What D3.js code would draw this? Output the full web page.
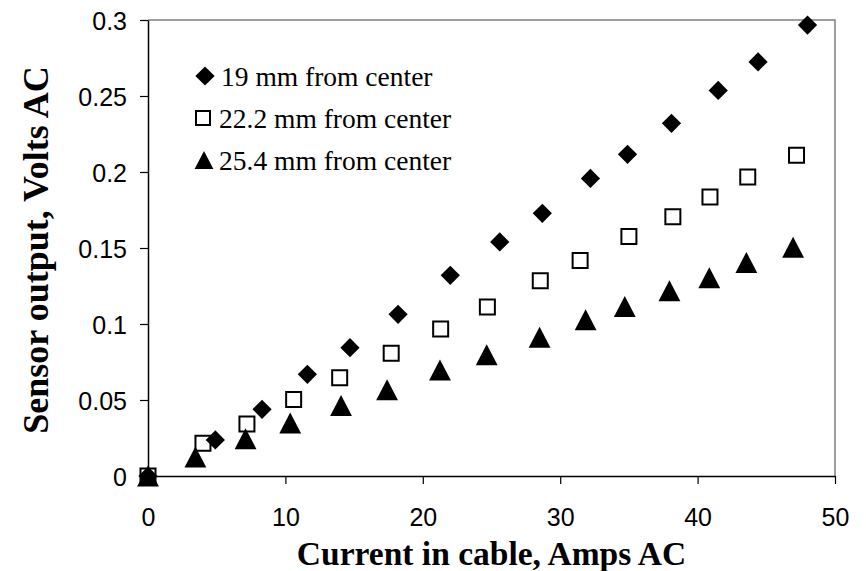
<!DOCTYPE html>
<html>
<head>
<meta charset="utf-8">
<script src="https://cdn.jsdelivr.net/npm/d3@7"></script>
<style>
  body { margin: 0; background: #fff; }
  svg { display: block; }
</style>
</head>
<body>
<script>
// data
const seriesNames = ["19 mm from center", "22.2 mm from center", "25.4 mm from center"];

const amps19 = [0, 4.9, 8.3, 11.6, 14.7, 18.2, 22.0, 25.6, 28.7, 32.2, 34.9, 38.1, 41.5, 44.4, 48.0];
const volts19 = [0, 0.0237, 0.0439, 0.0669, 0.0844, 0.1064, 0.132, 0.154, 0.1728, 0.1958, 0.2116, 0.232, 0.2537, 0.2724, 0.2967];

const amps22 = [0, 4.0, 7.2, 10.6, 13.95, 17.7, 21.3, 24.7, 28.55, 31.45, 35.0, 38.2, 40.9, 43.65, 47.2];
const volts22 = [0, 0.0215, 0.0342, 0.0504, 0.0647, 0.0807, 0.0967, 0.1112, 0.1285, 0.1417, 0.1575, 0.1706, 0.1836, 0.1967, 0.211];

const amps25 = [0, 3.45, 7.1, 10.35, 14.05, 17.4, 21.25, 24.65, 28.5, 31.85, 34.7, 37.95, 40.85, 43.55, 46.95];
const volts25 = [0, 0.0125, 0.0245, 0.0349, 0.0464, 0.0567, 0.0697, 0.0797, 0.0913, 0.1028, 0.1115, 0.1218, 0.1304, 0.1405, 0.1505];

const xTicks = [0, 10, 20, 30, 40, 50];
const yTicks = [0, 0.05, 0.1, 0.15, 0.2, 0.25, 0.3];
const yTickLabels = ["0", "0.05", "0.1", "0.15", "0.2", "0.25", "0.3"];

const width = 866, height = 571;
const margin = {top: 20, right: 31, bottom: 95, left: 148};

const svg = d3.select("body").append("svg")
    .attr("width", width)
    .attr("height", height);

const x = d3.scaleLinear().domain([0, 50]).range([margin.left, width - margin.right]);
const y = d3.scaleLinear().domain([0, 0.3]).range([height - margin.bottom, margin.top]);

// triangle with its box centred on the point
const tri = {
  draw(ctx, size) {
    let w = Math.sqrt(size);
    ctx.moveTo(0, -w / 2);
    ctx.lineTo(w * 0.52, w / 2);
    ctx.lineTo(-w * 0.52, w / 2);
    ctx.closePath();
  }
};

// plot frame: grey top and right
svg.append("path")
    .attr("d", `M${x(0)},${y(0.3)}H${x(50)}V${y(0)}`)
    .attr("fill", "none")
    .attr("stroke", "#808080")
    .attr("stroke-width", 1.5);

// axes
let xAxis = svg.append("g")
    .attr("transform", `translate(0,${y(0)})`)
    .call(d3.axisBottom(x).tickValues(xTicks).tickSize(8).tickPadding(24).tickSizeOuter(0));

let yAxis = svg.append("g")
    .attr("transform", `translate(${x(0)},0)`)
    .call(d3.axisLeft(y).tickValues(yTicks).tickSize(8).tickPadding(13).tickSizeOuter(0)
      .tickFormat((d, i) => yTickLabels[i]));

[xAxis, yAxis].forEach(g => {
  g.select(".domain").attr("stroke", "#000").attr("stroke-width", 1.5);
  g.selectAll(".tick line").attr("stroke", "#000").attr("stroke-width", 1.2);
  g.selectAll(".tick text")
      .attr("fill", "#000")
      .attr("font-family", "Liberation Sans, Arial, sans-serif")
      .attr("font-size", 25);
});
yAxis.selectAll(".tick text").attr("dy", "0.36em");

// points: squares first, then triangles, then diamonds
function toPoints(xs, ys) {
  return xs.map((d, i) => ({a: d, v: ys[i]}));
}

svg.append("g").selectAll("path")
  .data(toPoints(amps22, volts22))
  .enter().append("path")
    .attr("d", d3.symbol().type(d3.symbolSquare).size(225))
    .attr("transform", d => `translate(${x(d.a)},${y(d.v)})`)
    .attr("fill", "#fff")
    .attr("stroke", "#000")
    .attr("stroke-width", 2);

svg.append("g").selectAll("path")
  .data(toPoints(amps25, volts25))
  .enter().append("path")
    .attr("d", d3.symbol().type(tri).size(441))
    .attr("transform", d => `translate(${x(d.a)},${y(d.v)})`)
    .attr("fill", "#000");

svg.append("g").selectAll("path")
  .data(toPoints(amps19, volts19))
  .enter().append("path")
    .attr("d", d3.symbol().type(d3.symbolSquare).size(185))
    .attr("transform", d => `translate(${x(d.a)},${y(d.v)}) rotate(45)`)
    .attr("fill", "#000");

// legend
const legendY = [76, 118, 160];
let legend = svg.append("g");
legend.append("path")
    .attr("d", d3.symbol().type(d3.symbolSquare).size(185))
    .attr("transform", `translate(205,${legendY[0]}) rotate(45)`)
    .attr("fill", "#000");
legend.append("path")
    .attr("d", d3.symbol().type(d3.symbolSquare).size(196))
    .attr("transform", `translate(203,${legendY[1]})`)
    .attr("fill", "#fff")
    .attr("stroke", "#000")
    .attr("stroke-width", 2);
legend.append("path")
    .attr("d", d3.symbol().type(tri).size(324))
    .attr("transform", `translate(204,${legendY[2]})`)
    .attr("fill", "#000");
legend.selectAll("text")
  .data(seriesNames)
  .enter().append("text")
    .attr("x", (d, i) => i == 0 ? 221 : 219)
    .attr("y", (d, i) => legendY[i])
    .attr("dy", "0.35em")
    .attr("font-family", "Liberation Serif, Times New Roman, serif")
    .attr("font-size", 27.5)
    .attr("fill", "#000")
    .text(d => d);

// axis titles
svg.append("text")
    .attr("x", (x(0) + x(50)) / 2)
    .attr("y", 565)
    .attr("text-anchor", "middle")
    .attr("font-family", "Liberation Serif, Times New Roman, serif")
    .attr("font-weight", "bold")
    .attr("font-size", 33.5)
    .text("Current in cable, Amps AC");

svg.append("text")
    .attr("transform", "translate(48,250) rotate(-90)")
    .attr("text-anchor", "middle")
    .attr("font-family", "Liberation Serif, Times New Roman, serif")
    .attr("font-weight", "bold")
    .attr("font-size", 36)
    .text("Sensor output, Volts AC");
</script>
</body>
</html>
